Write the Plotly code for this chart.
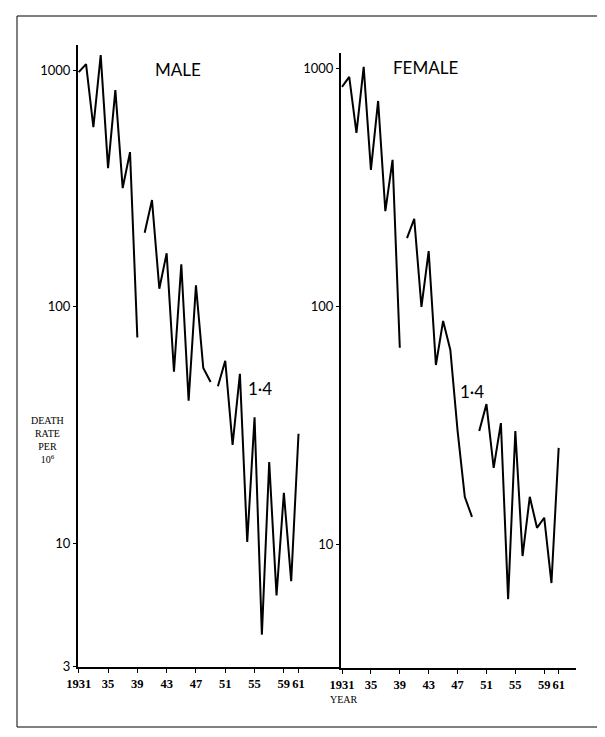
import plotly.graph_objects as go

# Death rate per million, ages 1-4
years = list(range(1931, 1962))
male = [980, 1060, 574, 1157, 385, 823, 317, 450, 74,
        205, 282, 119, 168, 53, 151, 40, 123, 55, 48,
        46, 59, 26, 52, 10.1, 34, 4.1, 22, 6.0, 16.3, 6.9, 29]
female = [840, 925, 538, 1020, 376, 733, 252, 414, 67,
          194, 234, 99.5, 171, 56.7, 86.9, 65.6, 30, 15.8, 13.0,
          29.9, 38.8, 20.9, 32.3, 5.86, 29.9, 8.9, 15.8, 11.7, 12.9, 6.85, 25.4]
# the series breaks between these years
segments = [(1931, 1939), (1940, 1949), (1950, 1961)]

x_tickvals = [1931, 1935, 1939, 1943, 1947, 1951, 1955, 1959, 1961]
x_ticktext = ["1931", "35", "39", "43", "47", "51", "55", "59", "61"]
y_tickvals = [3, 10, 100, 1000]
y_ticktext = ["3", "10", "100", "1000"]

# page body has an 8px margin, so the figure is a bit smaller and shifted
OFF = 8
W, H = 597, 729


def px_x(p):
    return (p - OFF) / W


def px_y(p):
    return 1 - (p - OFF) / H


fig = go.Figure()

for series, xa, ya in [(male, "x", "y"), (female, "x2", "y2")]:
    for start, end in segments:
        i0, i1 = years.index(start), years.index(end) + 1
        fig.add_trace(go.Scatter(
            x=years[i0:i1], y=series[i0:i1], mode="lines",
            line=dict(color="black", width=2),
            xaxis=xa, yaxis=ya, showlegend=False, hoverinfo="skip",
        ))

xaxis_common = dict(
    showline=True, linecolor="black", linewidth=2, showgrid=False, zeroline=False,
    ticks="outside", ticklen=4, tickcolor="black", tickwidth=1, tickangle=0,
    tickvals=x_tickvals, ticktext=x_ticktext,
    tickfont=dict(family="Liberation Serif", size=12.5, color="black", weight="bold"),
    automargin=False,
)
yaxis_common = dict(
    type="log", showline=True, linecolor="black", linewidth=2, showgrid=False,
    zeroline=False, ticks="outside", ticklen=3, tickcolor="black", tickwidth=1,
    tickvals=y_tickvals, ticktext=y_ticktext,
    tickfont=dict(family="Lato", size=13, color="black"),
    automargin=False,
)

fig.update_layout(
    width=W, height=H,
    margin=dict(l=0, r=0, t=0, b=0),
    paper_bgcolor="white", plot_bgcolor="white",
    xaxis=dict(xaxis_common, domain=[px_x(78), px_x(341)], range=[1930.9, 1966.8], anchor="y"),
    yaxis=dict(yaxis_common, domain=[px_y(667), px_y(45)], range=[0.476, 3.106], anchor="x"),
    xaxis2=dict(xaxis_common, domain=[px_x(341), px_x(576)], range=[1930.86, 1963.4], anchor="y2"),
    yaxis2=dict(yaxis_common, domain=[px_y(668), px_y(53)], range=[0.478, 3.067], anchor="x2"),
    shapes=[dict(type="rect", xref="paper", yref="paper",
                 x0=px_x(17), x1=px_x(600), y0=px_y(727), y1=px_y(16),
                 line=dict(color="black", width=1))],
)

title_font = dict(family="Lato", size=17, color="black")
label_font = dict(family="Liberation Serif", size=10, color="black")
annotations = [
    dict(text="MALE", x=px_x(178), y=px_y(70), font=title_font),
    dict(text="FEMALE", x=px_x(425), y=px_y(68), font=title_font),
    dict(text="1·4", x=px_x(260), y=px_y(389), font=title_font),
    dict(text="1·4", x=px_x(472), y=px_y(391), font=title_font),
    dict(text="DEATH<br>RATE<br>PER<br>10<sup>6</sup>", x=px_x(47), y=px_y(440),
         font=label_font),
    dict(text="YEAR", x=px_x(344), y=px_y(699), font=label_font),
]
for a in annotations:
    fig.add_annotation(xref="paper", yref="paper", showarrow=False,
                       xanchor="center", yanchor="middle", **a)

fig.write_html("out.html")
